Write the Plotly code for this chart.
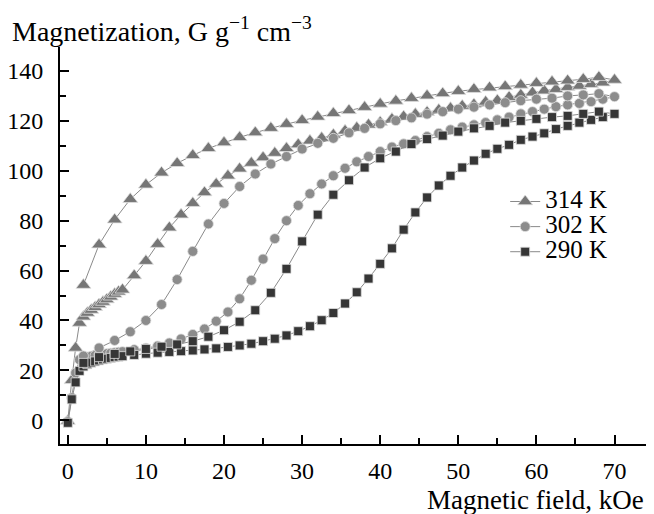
import plotly.graph_objects as go

# Increasing-field branch field values (kOe)
field_up = [0, 0.5, 1.0, 1.5, 2.0, 2.5, 3.0, 3.5, 4.0, 4.5, 5.0, 5.5, 6.0, 6.5, 7.0,
            8.5, 10, 11.5, 13, 14.5, 16, 17.5, 19, 20.5, 22, 23.5, 25, 26.5, 28, 29.5,
            31, 32.5, 34, 35.5, 37, 38.5, 40, 41.5, 43, 44.5, 46, 47.5, 49, 50.5, 52,
            53.5, 55, 56.5, 58, 59.5, 61, 62.5, 64, 65.5, 67, 68.5, 70]
# Decreasing-field branch field values (kOe)
field_down = [68, 66, 64, 62, 60, 58, 56, 54, 52, 50, 48, 46, 44, 42, 40, 38, 36, 34,
              32, 30, 28, 26, 24, 22, 20, 18, 16, 14, 12, 10, 8, 6, 4, 2]

m314_up = [-0.3, 16, 29, 39, 41.5, 43, 44.2, 45.3, 46.4, 47.4, 48.4, 49.5, 50.6, 51.5, 52.3,
           58, 63.8, 70.6, 77.2, 82.4, 87, 91.3, 94.7, 98, 100.8, 103.1, 105.3, 107.1, 109, 110.5,
           112, 113.1, 114.4, 116, 117.2, 118.4, 119.4, 120.7, 121.7, 122.7, 123.5, 124.4, 125.1, 126, 126.6,
           127.6, 128.2, 129.5, 130.4, 131.3, 132.1, 132.7, 133.5, 134, 134.7, 135.3, 136.4]
m314_down = [137.5, 136.7, 136.1, 135.7, 135.1, 134.4, 133.8, 133.3, 132.7, 131.9, 131, 130.1,
             129.1, 128, 126.8, 125.5, 124.2, 123, 121.6, 120.2, 118.7, 117.1, 115.3, 113.4,
             111.3, 109, 106.2, 103, 99.2, 94.4, 88.6, 80.4, 70.4, 54.2]

m302_up = [-0.5, 9, 19, 24.3, 25, 25.4, 25.7, 26, 26.3, 26.5, 26.7, 26.9, 27.1, 27.3, 27.5,
           28.3, 28.9, 29.8, 31, 32.6, 34.4, 36.6, 39.7, 43.4, 48.7, 56.1, 64.6, 72.8, 80, 86.1,
           90.8, 94.7, 98, 101, 103.6, 105.7, 107.7, 109.5, 110.8, 112.1, 113.7, 115, 116.4, 117.5, 118.4,
           119.3, 120.4, 121.5, 122.8, 123.7, 124.7, 125.7, 126.4, 127, 127.7, 128.7, 129.7]
m302_down = [130.9, 130.4, 130, 129.1, 128.7, 128.1, 127.3, 126.4, 125.5, 124.7, 123.7, 122.7,
             121.2, 120.1, 118.8, 117, 115.2, 113, 111, 108.7, 105.7, 102.7, 98.7, 93.7,
             86.9, 78.7, 67.7, 56.4, 46.4, 40, 35.5, 32, 29, 25.8]

m290_up = [-1, 8.4, 15.2, 19.8, 21.6, 22.5, 23.1, 23.6, 24, 24.4, 24.7, 25, 25.3, 25.5, 25.7,
           26.2, 26.7, 27.1, 27.4, 27.7, 28, 28.4, 28.8, 29.4, 30, 30.7, 31.7, 32.7, 34, 35.7,
           37.7, 40.1, 43, 46.8, 51.3, 56.8, 62.7, 68.9, 76.4, 83.3, 89.3, 94.1, 98, 101.3, 104.1,
           106.8, 108.8, 110.4, 112.4, 113.7, 115, 116.7, 118, 119.3, 120.4, 121.5, 122.8]
m290_down = [123.7, 122.8, 122, 121.5, 120.8, 120, 119.3, 118, 117, 115.7, 114.1, 112.7,
             110.7, 107.7, 105, 101.3, 96.2, 90.4, 82.4, 71.7, 60.7, 51.1, 44.1, 39.5,
             36.1, 33.5, 31.7, 30.4, 29.5, 28.6, 27.6, 26.6, 25.3, 23]

x_ticks = [0, 10, 20, 30, 40, 50, 60, 70]
y_ticks = [0, 20, 40, 60, 80, 100, 120, 140]

FONT = "Liberation Serif"
series = [
    ("314 K", m314_up, m314_down, "triangle-up", 13, "#767676"),
    ("302 K", m302_up, m302_down, "circle", 10, "#8c8c8c"),
    ("290 K", m290_up, m290_down, "square", 9, "#363636"),
]

fig = go.Figure()
for name, up, down, sym, size, col in series:
    fig.add_trace(go.Scatter(
        x=field_up + field_down, y=up + down, mode="lines+markers",
        name="<span style='font-size:25px'>" + name + "</span>",
        line=dict(color="#8a8a8a", width=1),
        marker=dict(symbol=sym, size=size, color=col, line=dict(color="#e0e0e0", width=0.8)),
    ))

# page body has an 8px margin: figure is sized/offset so plot area sits at page x 60-652, y 47-444
fig.update_layout(
    width=646, height=506,
    margin=dict(l=52, r=2, t=39, b=70, autoexpand=False),
    paper_bgcolor="white", plot_bgcolor="white",
    font=dict(family=FONT, size=24, color="black"),
    showlegend=True,
    legend=dict(x=0.752, y=0.655, xanchor="left", yanchor="top",
                font=dict(family=FONT, size=17), bgcolor="rgba(0,0,0,0)",
                tracegroupgap=0, itemsizing="trace"),
    xaxis=dict(range=[-1, 74.8], tickvals=x_ticks, showline=True, linecolor="black", linewidth=2,
               ticks="inside", ticklen=9, tickwidth=2, tickcolor="black", showgrid=False, zeroline=False,
               ticklabelstandoff=4, tickfont=dict(family=FONT, size=24), automargin=False,
               minor=dict(ticks="inside", ticklen=6, tickwidth=2, tickcolor="black", dtick=5, tick0=5, showgrid=False)),
    yaxis=dict(range=[-9.5, 149.6], tickvals=y_ticks, showline=True, linecolor="black", linewidth=2,
               ticks="inside", ticklen=9, tickwidth=2, tickcolor="black", showgrid=False, zeroline=False,
               ticklabelstandoff=10, tickfont=dict(family=FONT, size=24), automargin=False,
               minor=dict(ticks="inside", ticklen=6, tickwidth=2, tickcolor="black", dtick=10, tick0=10, showgrid=False)),
    annotations=[
        dict(text="Magnetization, G g<sup>\u22121</sup> cm<sup>\u22123</sup>", xref="paper", yref="paper",
             x=-0.085, y=1.045, xanchor="left", yanchor="middle", showarrow=False,
             font=dict(family=FONT, size=28)),
        dict(text="Magnetic field, kOe", xref="paper", yref="paper",
             x=0.99, y=-0.14, xanchor="right", yanchor="middle", showarrow=False,
             font=dict(family=FONT, size=27)),
    ],
)

fig.write_html("out.html")
